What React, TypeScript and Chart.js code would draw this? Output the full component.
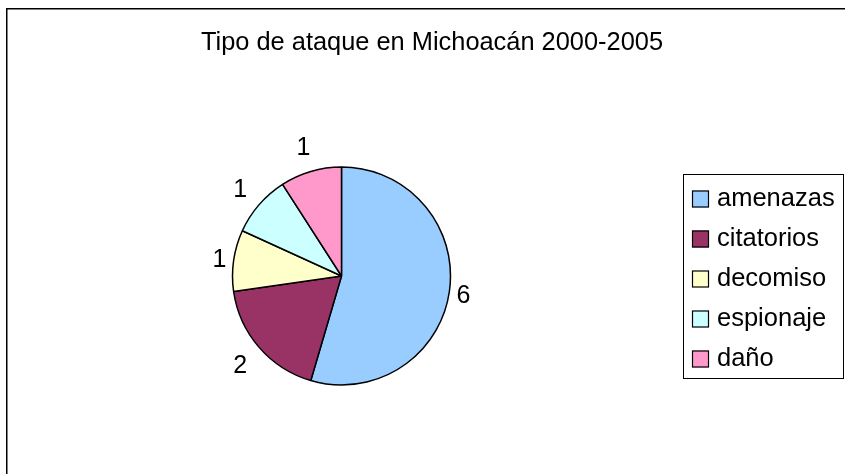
import { useEffect, useRef } from "react";
import { Chart, registerables } from "chart.js";

Chart.register(...registerables);

const titleText = "Tipo de ataque en Michoacán 2000-2005";
const categories = ["amenazas", "citatorios", "decomiso", "espionaje", "daño"];
const values = [6, 2, 1, 1, 1];
const colors = ["#99CCFF", "#993366", "#FFFFCC", "#CCFFFF", "#FF99CC"];

const FONT = '"Liberation Sans", Arial, sans-serif';

export default function App() {
  const ref = useRef<HTMLCanvasElement>(null);

  useEffect(() => {
    const canvas = ref.current!;
    const deco = {
      id: "deco",
      beforeDraw(chart: any) {
        const ctx = chart.ctx;
        ctx.save();
        ctx.fillStyle = "#ffffff";
        ctx.fillRect(0, 0, chart.width, chart.height);
        ctx.restore();
      },
      afterDraw(chart: any) {
        const ctx = chart.ctx;
        ctx.save();
        // outer chart border (extends beyond the picture on right/bottom)
        ctx.strokeStyle = "#000000";
        ctx.lineWidth = 1.5;
        ctx.strokeRect(6.75, 8.75, 1000, 1000);

        // title
        ctx.fillStyle = "#000000";
        ctx.font = `25.4px ${FONT}`;
        ctx.textAlign = "center";
        ctx.textBaseline = "alphabetic";
        ctx.fillText(titleText, 432, 50);

        // data labels
        const meta = chart.getDatasetMeta(0);
        meta.data.forEach((arc: any, i: number) => {
          const p = arc.getProps(["x", "y", "startAngle", "endAngle", "outerRadius"], true);
          const mid = (p.startAngle + p.endAngle) / 2;
          const dx = Math.cos(mid);
          const dy = Math.sin(mid);
          const dist = p.outerRadius - 6 + 16.3 * Math.abs(dx) + 28.7 * Math.abs(dy);
          const cx = p.x + dx * dist;
          const cy = p.y + dy * dist;
          ctx.font = `25px ${FONT}`;
          ctx.textAlign = "center";
          ctx.fillStyle = "#000000";
          ctx.fillText(String(values[i]), cx, cy + 9);
        });

        // legend
        ctx.lineWidth = 1;
        ctx.strokeStyle = "#000000";
        ctx.strokeRect(683.5, 174.5, 160, 204);
        categories.forEach((name, i) => {
          const rowY = 199 + i * 40;
          ctx.fillStyle = colors[i];
          ctx.fillRect(692, rowY - 8.5, 17, 17);
          ctx.strokeStyle = "#000000";
          ctx.lineWidth = 1.2;
          ctx.strokeRect(692.5, rowY - 8, 16, 16);
          ctx.fillStyle = "#000000";
          ctx.font = `25.5px ${FONT}`;
          ctx.textAlign = "left";
          ctx.fillText(name, 717, rowY + 7);
        });
        ctx.restore();
      },
    };

    const chart = new Chart(canvas, {
      type: "pie",
      data: {
        labels: categories,
        datasets: [
          {
            data: values,
            backgroundColor: colors,
            borderColor: "#000000",
            borderWidth: 1.5,
            hoverOffset: 0,
            radius: 109,
          } as any,
        ],
      },
      options: {
        responsive: false,
        animation: false,
        events: [],
        layout: { padding: { left: 232, right: 394, top: 167, bottom: 89 } },
        plugins: {
          legend: { display: false },
          title: { display: false },
          tooltip: { enabled: false },
        },
      } as any,
      plugins: [deco],
    });
    return () => chart.destroy();
  }, []);

  return (
    <div style={{ position: "absolute", left: 0, top: 0, width: 845, height: 474 }}>
      <canvas ref={ref} width={845} height={474} style={{ display: "block" }} />
    </div>
  );
}
